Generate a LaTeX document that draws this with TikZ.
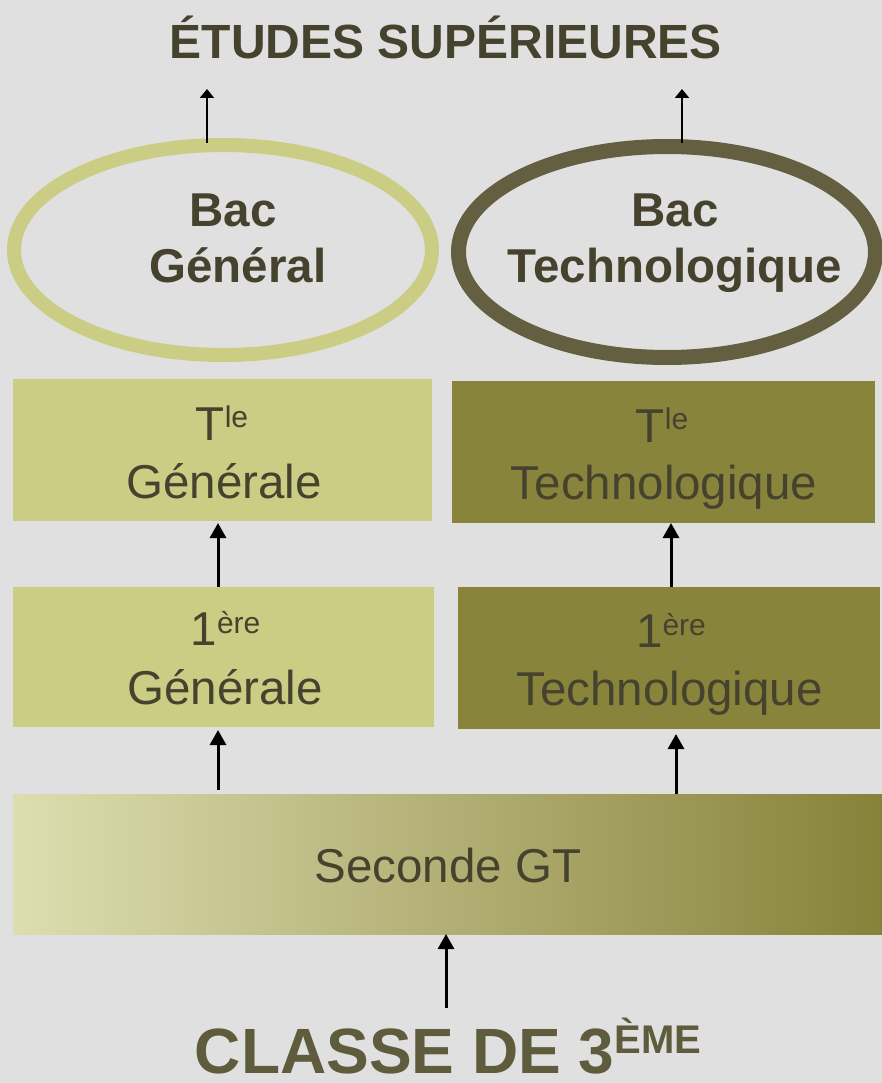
\documentclass[tikz,border=0pt]{standalone}
\usepackage{fontspec}
\setmainfont{Liberation Sans}
\usetikzlibrary{arrows.meta,shapes.geometric}
\definecolor{bgc}{HTML}{E0E0E0}
\definecolor{txtc}{HTML}{45422E}
\definecolor{lolive}{HTML}{CBCD84}
\definecolor{dolive}{HTML}{89843C}
\definecolor{ringd}{HTML}{635F40}
\definecolor{botc}{HTML}{5F5B3D}
\definecolor{gl}{HTML}{DDDDB0}
\definecolor{gm}{HTML}{BDBB86}
\definecolor{gr}{HTML}{87823A}
\newcommand\myfs[2]{\fontsize{#1pt}{#2pt}\selectfont}
\newcommand\mysup[3]{\raisebox{#2pt}{\myfs{#1}{#1}#3}}
\begin{document}
\begin{tikzpicture}[x=1pt,y=-1pt,
  box/.style={rectangle,inner sep=0pt,outer sep=0pt,draw=none},
  ring/.style={ellipse,inner sep=0pt,fill=none},
  lbl/.style={inner sep=0pt,anchor=base,text=txtc,font=\myfs{47.5}{57}},
  blbl/.style={lbl,font=\bfseries\myfs{47.5}{57}},
  arr/.style={line width=3pt,-{Triangle[width=16pt,length=15pt]}},
  tarr/.style={line width=2.6pt,-{Triangle[width=14pt,length=9pt]}}]
\useasboundingbox (0,0) rectangle (882,1083);
\fill[bgc] (0,0) rectangle (882,1083);

% title
\node[blbl,font=\bfseries\myfs{48}{58}] (title) at (446,59) {ÉTUDES SUPÉRIEURES};

% ellipses
\node[ring,draw=lolive,line width=14pt,minimum width=418pt,minimum height=210pt] (eg) at (223,250) {};
\node[ring,draw=ringd,line width=15pt,minimum width=417pt,minimum height=211pt] (et) at (667,252) {};
\node[blbl] (egA) at (233,226) {Bac};
\node[blbl] (egB) at (238,282) {Général};
\node[blbl] (etA) at (675,226) {Bac};
\node[blbl] (etB) at (675,282) {Technologique};

% boxes
\node[box,fill=lolive,minimum width=419pt,minimum height=142pt] (tg) at (222.5,450) {};
\node[box,fill=dolive,minimum width=423pt,minimum height=142pt] (tt) at (663.5,452) {};
\node[box,fill=lolive,minimum width=421pt,minimum height=140pt] (pg) at (223.5,657) {};
\node[box,fill=dolive,minimum width=422pt,minimum height=142pt] (pt) at (669,658) {};
\node[box,left color=gl,middle color=gm,right color=gr,minimum width=869pt,minimum height=140pt] (sg) at (447.5,864) {};

% box texts
\node[lbl] (tgA) at (222,440) {T\mysup{30}{13}{le}};
\node[lbl] (tgB) at (224,498) {Générale};
\node[lbl] (ttA) at (662,442) {T\mysup{30}{13}{le}};
\node[lbl] (ttB) at (664,499) {Technologique};
\node[lbl] (pgA) at (225.5,645) {1\mysup{30}{12}{ère}};
\node[lbl] (pgB) at (225,704) {Générale};
\node[lbl] (ptA) at (671,647) {1\mysup{30}{12}{ère}};
\node[lbl] (ptB) at (669.5,705) {Technologique};
\node[lbl] (sgA) at (448,882) {Seconde GT};

% bottom
\node[blbl,text=botc,font=\bfseries\myfs{64}{70}] (cl) at (448,1073) {CLASSE DE 3\mysup{40}{20}{ÈME}};

% arrow positions
\coordinate (ga) at (207,89);
\coordinate (ta) at (682,89);
\coordinate (x1) at (218,0);
\coordinate (x2) at (671,0);
\coordinate (x3) at (676,0);
\coordinate (x4) at (446,0);

\draw[tarr] ([yshift=-5pt]eg.north -| ga) -- (ga);
\draw[tarr] ([yshift=-4pt]et.north -| ta) -- (ta);
\draw[arr] (pg.north -| x1) -- ([yshift=-2pt]tg.south -| x1);
\draw[arr] (pt.north -| x2) -- (tt.south -| x2);
\draw[arr] ([yshift=4pt]sg.north -| x1) -- ([yshift=-3pt]pg.south -| x1);
\draw[arr] (sg.north -| x3) -- ([yshift=-5pt]pt.south -| x3);
\draw[arr] ([yshift=9pt]cl.north -| x4) -- (sg.south -| x4);
\end{tikzpicture}
\end{document}
